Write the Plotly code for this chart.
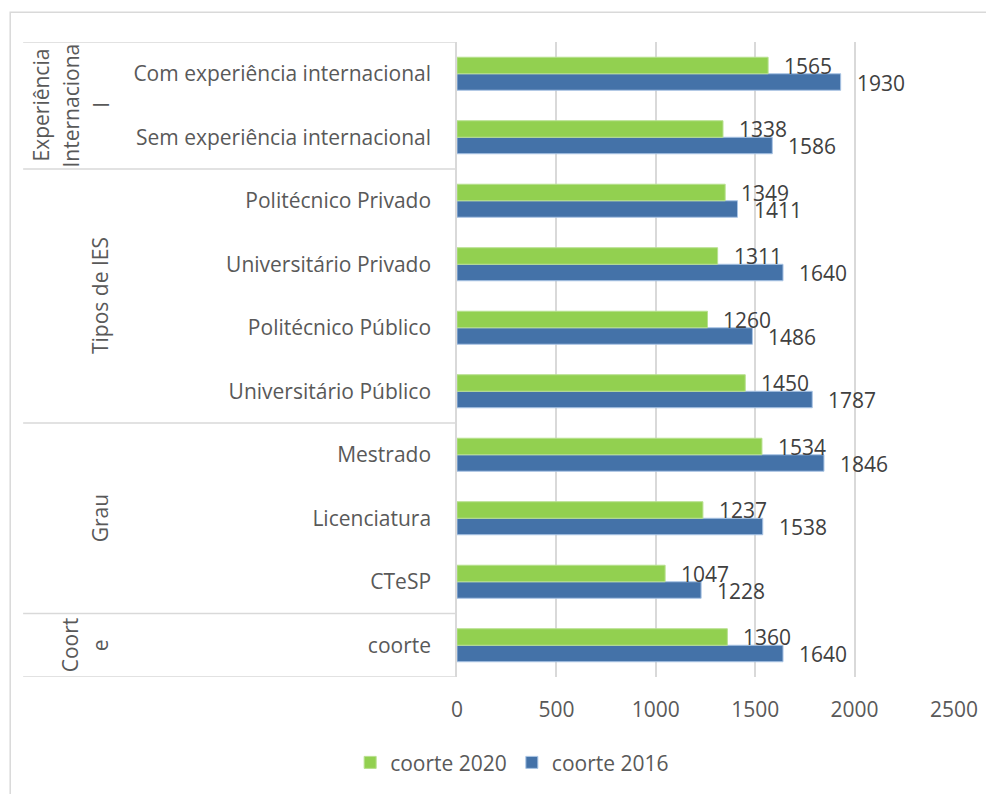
import plotly.graph_objects as go

# categories bottom -> top (plotly category axis starts at the bottom)
categories = [
    "coorte",
    "CTeSP",
    "Licenciatura",
    "Mestrado",
    "Universitário Público",
    "Politécnico Público",
    "Universitário Privado",
    "Politécnico Privado",
    "Sem experiência internacional",
    "Com experiência internacional",
]
coorte_2020 = [1360, 1047, 1237, 1534, 1450, 1260, 1311, 1349, 1338, 1565]
coorte_2016 = [1640, 1228, 1538, 1846, 1787, 1486, 1640, 1411, 1586, 1930]

# group labels: (lines, category index of the centre)
groups = [
    (["Coort", "e"], 0),
    (["Grau"], 2),
    (["Tipos de IES"], 5.5),
    (["Experiência", "Internaciona", "l"], 8.5),
]
x_ticks = [0, 500, 1000, 1500, 2000, 2500]

GREEN = "#92d050"
BLUE = "#4472a8"
TEXT = "#595959"
GRID = "#d9d9d9"
FONT = "Open Sans"
SIZE = 21

fig = go.Figure()
fig.add_trace(go.Bar(
    y=categories, x=coorte_2016, orientation="h", name="coorte 2016",
    marker=dict(color=BLUE, line=dict(color="#a9c4e4", width=1)),
))
fig.add_trace(go.Bar(
    y=categories, x=coorte_2020, orientation="h", name="coorte 2020",
    marker=dict(color=GREEN, line=dict(color="#b8e08f", width=1)),
))

# data labels, just past the end of each bar
for i, (v20, v16) in enumerate(zip(coorte_2020, coorte_2016)):
    for val, shift in [(v20, 8), (v16, -9)]:
        fig.add_annotation(
            x=val, y=i, xref="x", yref="y", text=str(val), showarrow=False,
            xanchor="left", yanchor="middle", xshift=14, yshift=shift,
            font=dict(family=FONT, size=SIZE, color="#404040"),
        )

# table lines of the multi-level category axis
for b in [9.5, 7.5, 3.5, 0.5, -0.5]:
    fig.add_shape(
        type="line", xref="paper", yref="y", x0=-0.873, x1=0, y0=b, y1=b,
        line=dict(color=GRID, width=1.5), layer="below",
    )

# group labels, rotated, lines stacked towards the tick labels
for lines, centre in groups:
    n = len(lines)
    for k, line in enumerate(lines):
        px = 100 - (n - 1 - k) * 30
        fig.add_annotation(
            x=0, y=centre, xref="paper", yref="y", text=line, showarrow=False,
            textangle=-90, xanchor="center", yanchor="middle", xshift=px - 457,
            font=dict(family=FONT, size=SIZE, color=TEXT),
        )

# outer chart border (extends past the photographed area)
fig.add_shape(
    type="rect", xref="paper", yref="paper", x0=-0.899, x1=1.2, y0=-0.5, y1=1.047,
    line=dict(color=GRID, width=1.5), layer="below",
)

fig.update_layout(
    width=994, height=794,
    margin=dict(l=449, r=48, t=34, b=125),
    paper_bgcolor="white", plot_bgcolor="white",
    barmode="group", bargap=0.48, bargroupgap=0,
    font=dict(family=FONT, size=SIZE, color=TEXT),
    showlegend=True,
    legend=dict(
        orientation="h", x=0.111, xanchor="center", y=-0.135, yanchor="middle",
        traceorder="reversed", font=dict(family=FONT, size=SIZE, color=TEXT),
    ),
)
fig.update_xaxes(
    range=[0, 2500], tickvals=x_ticks, showgrid=True, gridcolor=GRID, gridwidth=1.5,
    zeroline=False, showline=False, ticks="", ticklabelstandoff=18,
    tickfont=dict(family=FONT, size=SIZE, color=TEXT),
)
fig.update_yaxes(
    type="category", categoryorder="array", categoryarray=categories,
    range=[-0.5, 9.5], showgrid=False, zeroline=False,
    showline=True, linecolor=GRID, linewidth=1.5, ticks="", ticklabelstandoff=20,
    tickfont=dict(family=FONT, size=SIZE, color=TEXT),
)

fig.write_html("out.html")
